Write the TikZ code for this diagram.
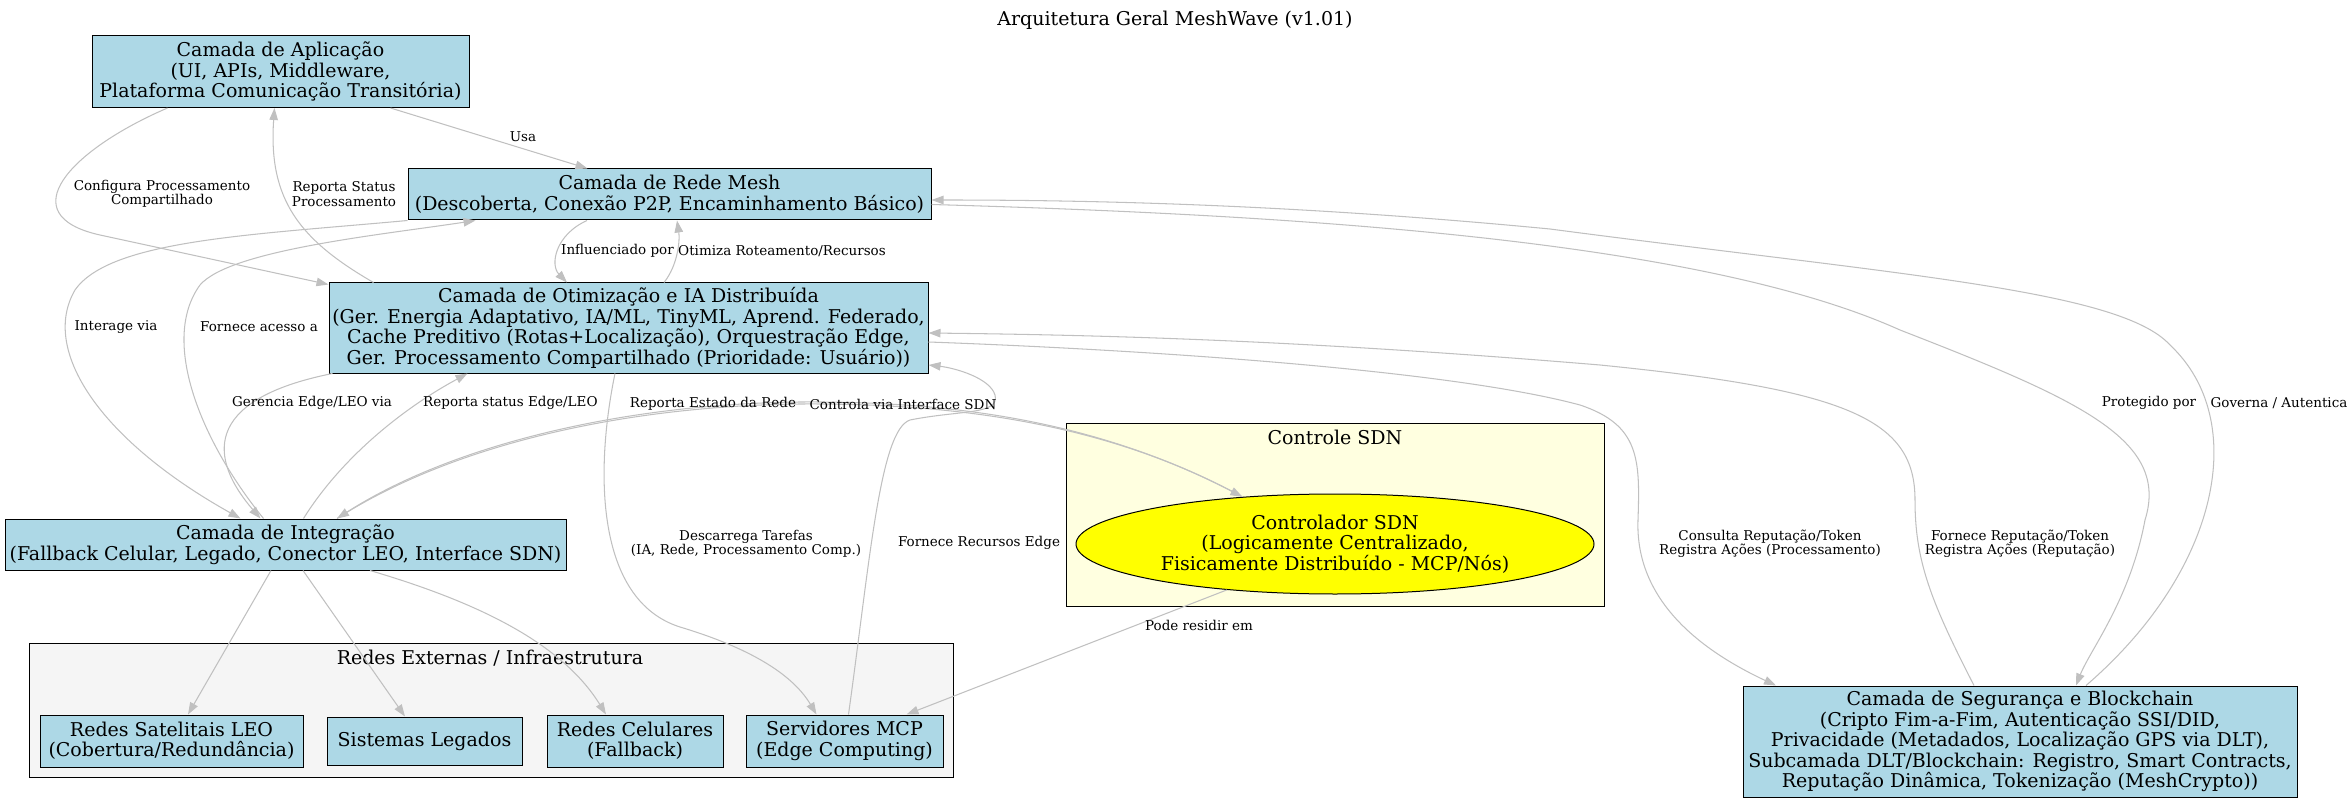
\documentclass[tikz,border=0pt]{standalone}
\usepackage{fontspec}
\setmainfont{DejaVu Serif}
\usetikzlibrary{arrows.meta,shapes.geometric}

\definecolor{layerblue}{HTML}{ADD8E6}
\definecolor{sdnyellow}{HTML}{FFFFE0}
\definecolor{ctrlyellow}{HTML}{FFFF00}
\definecolor{extgray}{HTML}{F5F5F5}
\definecolor{linkgray}{HTML}{C0C0C0}
\newcommand{\nodefont}{\fontsize{19}{20.5}\selectfont}
\newcommand{\lblfont}{\fontsize{13.5}{14.5}\selectfont}

\begin{document}
\begin{tikzpicture}[x=1pt, y=-1pt, >={Triangle[length=12pt,width=8.5pt]},
    layer/.style={draw, fill=layerblue, line width=1pt, align=center, font=\nodefont, inner sep=1pt},
    ctrl/.style={draw, ellipse, fill=ctrlyellow, line width=1pt, align=center, font=\nodefont, inner sep=0pt},
    grp/.style={draw, line width=1pt},
    link/.style={->, draw=linkgray, line width=1.05pt},
    lbl/.style={font=\lblfont, align=center, inner sep=0pt}]
    \useasboundingbox (0,0) rectangle (2351,802);

    % clusters
    \draw[grp, fill=extgray] (29,643) rectangle (953,777);
    \node[font=\nodefont] (extlbl) at (490,658) {Redes Externas / Infraestrutura};
    \draw[grp, fill=sdnyellow] (1066,423) rectangle (1604,606);
    \node[font=\nodefont] (sdnlbl) at (1335,437) {Controle SDN};

    \node[font=\nodefont] (title) at (1175,20) {Arquitetura Geral MeshWave (v1.01)};

    % layers
    \node[layer, minimum width=377, minimum height=72] (app) at (280.5,71.5)
        {Camada de Aplicação\\(UI, APIs, Middleware,\\Plataforma Comunicação Transitória)};
    \node[layer, minimum width=523, minimum height=51] (mesh) at (669.5,194.5)
        {Camada de Rede Mesh\\(Descoberta, Conexão P2P, Encaminhamento Básico)};
    \node[layer, minimum width=599, minimum height=90] (opt) at (628.5,328)
        {Camada de Otimização e IA Distribuída\\(Ger. Energia Adaptativo, IA/ML, TinyML, Aprend. Federado,\\Cache Preditivo (Rotas+Localização), Orquestração Edge,\\Ger. Processamento Compartilhado (Prioridade: Usuário))};
    \node[layer, minimum width=561, minimum height=51] (integ) at (285.5,544.5)
        {Camada de Integração\\(Fallback Celular, Legado, Conector LEO, Interface SDN)};
    \node[layer, minimum width=554, minimum height=111] (sec) at (2020,741.5)
        {Camada de Segurança e Blockchain\\(Cripto Fim-a-Fim, Autenticação SSI/DID,\\Privacidade (Metadados, Localização GPS via DLT),\\Subcamada DLT/Blockchain: Registro, Smart Contracts,\\Reputação Dinâmica, Tokenização (MeshCrypto))};

    % external networks
    \node[layer, minimum width=263, minimum height=52] (leo) at (171.5,741) {Redes Satelitais LEO\\(Cobertura/Redundância)};
    \node[layer, minimum width=195, minimum height=48] (legados) at (424.5,741) {Sistemas Legados};
    \node[layer, minimum width=176, minimum height=52] (celular) at (635,741) {Redes Celulares\\(Fallback)};
    \node[layer, minimum width=197, minimum height=52] (mcp) at (844.5,741) {Servidores MCP\\(Edge Computing)};

    % sdn
    \node[ctrl, minimum width=518, minimum height=100] (sdn) at (1335,544)
        {Controlador SDN\\(Logicamente Centralizado,\\Fisicamente Distribuído - MCP/Nós)};

    % edges
    \draw[link] ([xshift=110]app.south) -- ([xshift=-82]mesh.north);
    \draw[link] ([xshift=-113]app.south) .. controls (70,150) and (10,215) .. (100,235) -- ([yshift=-2]opt.north west);
    \draw[link] ([xshift=-255]opt.north) .. controls (300,240) and (268,200) .. ([xshift=-6]app.south);
    \draw[link] (mesh.south west) .. controls (250,235) and (110,240) .. (75,290) .. controls (40,350) and (100,440) .. ([xshift=-45]integ.north);
    \draw[link] ([xshift=-22]integ.north) .. controls (200,440) and (160,340) .. (200,285) .. controls (230,250) and (380,235) .. ([xshift=-194]mesh.south);
    \draw[link] ([xshift=-82.5]mesh.south) .. controls (555,235) and (550,265) .. ([xshift=-61.5]opt.north);
    \draw[link] ([xshift=35.5]opt.north) .. controls (678,265) and (680,240) .. ([xshift=7.5]mesh.south);
    \draw[link] ([xshift=4]opt.south west) .. controls (200,400) and (210,460) .. ([xshift=-25]integ.north);
    \draw[link] ([xshift=18]integ.north) .. controls (340,460) and (400,410) .. ([xshift=-161]opt.south);
    \draw[link] (sdn.153) .. controls (1100,420) and (950,401) .. (800,402) .. controls (620,404) and (450,446) .. ([xshift=51.5]integ.north);
    \draw[link] ([xshift=51.5]integ.north) .. controls (450,446) and (620,406) .. (800,404) .. controls (950,403) and (1100,422) .. (sdn.153);
    \draw[link] ([xshift=-13.5]opt.south) .. controls (595,470) and (595,600) .. (680,627) .. controls (740,645) and (790,670) .. ([xshift=-28]mcp.north);
    \draw[link] ([xshift=4]mcp.north) .. controls (870,560) and (880,430) .. (910,420) .. controls (960,410) and (1000,415) .. (995,395) .. controls (990,378) and (955,368) .. ([yshift=-37]opt.east);
    \draw[link] (sdn.-157) -- ([xshift=62]mcp.north);
    \draw[link] ([xshift=-14.5]integ.south) -- ([xshift=16.5]leo.north);
    \draw[link] ([xshift=17.5]integ.south) -- ([xshift=-19.5]legados.north);
    \draw[link] ([xshift=84.5]integ.south) .. controls (470,600) and (560,640) .. ([xshift=-29]celular.north);
    \draw[link] ([yshift=-14]opt.east) .. controls (1150,350) and (1450,370) .. (1580,405) .. controls (1640,425) and (1640,460) .. (1638,520) .. controls (1635,600) and (1700,650) .. ([xshift=-244]sec.north);
    \draw[link] ([xshift=-46]sec.north) .. controls (1930,600) and (1915,560) .. (1915,500) .. controls (1915,420) and (1850,390) .. (1600,365) .. controls (1300,340) and (1100,335) .. ([yshift=-5]opt.east);
    \draw[link] ([yshift=-10]mesh.east) .. controls (1300,215) and (1700,240) .. (1900,330) .. controls (2080,400) and (2170,440) .. (2145,520) .. controls (2130,600) and (2090,650) .. ([xshift=56]sec.north);
    \draw[link] ([xshift=66]sec.north) .. controls (2220,570) and (2250,420) .. (2170,345) .. controls (2120,290) and (1900,275) .. (1550,229) .. controls (1300,205) and (1100,200) .. ([yshift=-5.5]mesh.east);

    % edge labels
    \node[lbl] (lusa) at (523,137) {Usa};
    \node[lbl] (lconf) at (162,194) {Configura Processamento\\Compartilhado};
    \node[lbl] (lrep) at (344,194) {Reporta Status\\Processamento};
    \node[lbl] (linter) at (116,327) {Interage via};
    \node[lbl] (lacesso) at (259,327) {Fornece acesso a};
    \node[lbl, anchor=west] (linfl) at (561,251) {Influenciado por};
    \node[lbl, anchor=west] (lotim) at (678,251) {Otimiza Roteamento/Recursos};
    \node[lbl] (lger) at (312,403) {Gerencia Edge/LEO via};
    \node[lbl, anchor=west] (lrepedge) at (423,403) {Reporta status Edge/LEO};
    \node[lbl] (lestado) at (713,404) {Reporta Estado da Rede};
    \node[lbl] (lcontrola) at (903,404) {Controla via Interface SDN};
    \node[lbl] (ldesc) at (746,544) {Descarrega Tarefas\\(IA, Rede, Processamento Comp.)};
    \node[lbl] (lrec) at (979,543) {Fornece Recursos Edge};
    \node[lbl] (lpode) at (1199,625) {Pode residir em};
    \node[lbl] (lcons) at (1770,544) {Consulta Reputação/Token\\Registra Ações (Processamento)};
    \node[lbl] (lforn) at (2020,544) {Fornece Reputação/Token\\Registra Ações (Reputação)};
    \node[lbl] (lprot) at (2149,403) {Protegido por};
    \node[lbl] (lgov) at (2279,403) {Governa / Autentica};
\end{tikzpicture}
\end{document}
